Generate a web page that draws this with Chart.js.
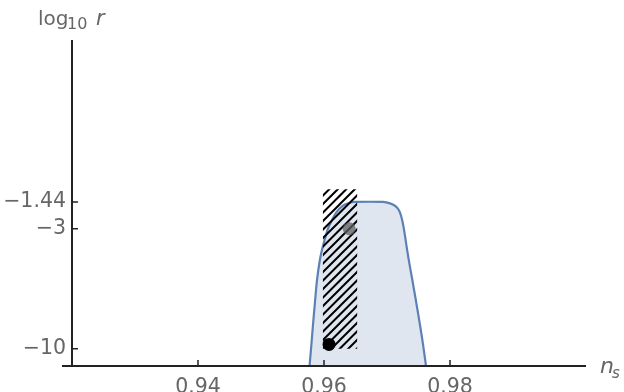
<!DOCTYPE html>
<html>
<head>
<meta charset="utf-8">
<script src="https://cdn.jsdelivr.net/npm/chart.js@4"></script>
<style>
  html, body { margin: 0; padding: 0; background: #fff; }
</style>
</head>
<body>
<canvas id="myChart" width="624" height="392"></canvas>
<script>
// allowed region boundary (n_s, log10 r)
const nsBoundary = [0.95770, 0.95794, 0.95825, 0.95857, 0.95889, 0.95929, 0.95960, 0.95992, 0.96024, 0.96056,
  0.96111, 0.96198, 0.96302, 0.96397, 0.96492,
  0.96937, 0.97048, 0.97127, 0.97183, 0.97222, 0.97254, 0.97286, 0.97317, 0.97357, 0.97405, 0.97460,
  0.97516, 0.97571, 0.97619];
const logrBoundary = [-11, -10.01, -8.61, -7.27, -5.99, -4.94, -4.36, -3.89, -3.48, -3.07,
  -2.61, -2.03, -1.65, -1.50, -1.44,
  -1.44, -1.52, -1.66, -1.88, -2.23, -2.72, -3.42, -4.18, -5.06, -6.05, -7.21,
  -8.44, -9.72, -11];

// hatched band
const hatchNs = [0.9598, 0.9653];
const hatchLogr = [-10, -0.7];

// model points
const grayPoint = [0.9640, -3.0];
const blackPoint = [0.9608, -9.74];

// ticks
const xTicks = [0.94, 0.96, 0.98];
const yTicks = [-10, -3, -1.44];
const yTickLabels = ['\u221210', '\u22123', '\u22121.44'];

const ctx = document.getElementById('myChart').getContext('2d');

// diagonal hatch, spacing 8.5px along each axis (tile holds two periods)
function hatchPattern() {
  const c = document.createElement('canvas');
  c.width = 17; c.height = 17;
  const g = c.getContext('2d');
  g.strokeStyle = '#000';
  g.lineWidth = 2;
  g.beginPath();
  for (let k = 0; k <= 4; k++) {
    const s = k * 8.5;
    g.moveTo(s + 3, -3); g.lineTo(s - 20, 20);
  }
  g.stroke();
  return ctx.createPattern(c, 'repeat');
}

const axesPlugin = {
  id: 'axesPlugin',
  afterDraw(chart) {
    const c = chart.ctx;
    const xs = chart.scales.x, ys = chart.scales.y;
    const a = chart.chartArea;
    c.save();
    c.strokeStyle = '#222';
    c.lineWidth = 2;
    c.beginPath();
    c.moveTo(a.left - 10, a.bottom); c.lineTo(a.right + 10, a.bottom);
    c.moveTo(a.left, a.top); c.lineTo(a.left, a.bottom);
    c.stroke();
    c.lineWidth = 1.5;
    c.beginPath();
    xTicks.forEach(v => {
      const px = xs.getPixelForValue(v);
      c.moveTo(px, a.bottom); c.lineTo(px, a.bottom - 6);
    });
    yTicks.forEach(v => {
      const py = ys.getPixelForValue(v);
      c.moveTo(a.left, py); c.lineTo(a.left + 6, py);
    });
    c.stroke();

    // axis labels
    c.fillStyle = '#666';
    c.textBaseline = 'alphabetic';
    c.textAlign = 'left';
    c.font = '20px "DejaVu Sans"';
    c.fillText('log', 38, 25);
    c.font = '16px "DejaVu Sans"';
    c.fillText('10', 67, 29);
    c.font = 'italic 21px "DejaVu Sans"';
    c.fillText('r', 96, 25);

    c.font = 'italic 22px "DejaVu Sans"';
    c.fillText('n', 600, 373);
    c.font = 'italic 15px "DejaVu Sans"';
    c.fillText('s', 612, 378);
    c.restore();
  }
};

const data = {
  datasets: [
    {
      label: 'black',
      type: 'scatter',
      data: [{ x: blackPoint[0], y: blackPoint[1] }],
      backgroundColor: '#000',
      borderWidth: 0,
      pointRadius: 6.5,
      order: 0
    },
    {
      label: 'gray',
      type: 'scatter',
      data: [{ x: grayPoint[0], y: grayPoint[1] }],
      backgroundColor: 'rgba(95,95,95,0.75)',
      borderWidth: 0,
      pointRadius: 6.5,
      order: 1
    },
    {
      label: 'hatch',
      type: 'line',
      data: hatchNs.map(v => ({ x: v, y: hatchLogr[1] })),
      borderWidth: 0,
      pointRadius: 0,
      backgroundColor: hatchPattern(),
      fill: { value: hatchLogr[0] },
      order: 2
    },
    {
      label: 'region',
      type: 'line',
      data: nsBoundary.map((v, i) => ({ x: v, y: logrBoundary[i] })),
      borderColor: 'rgb(94,129,181)',
      borderWidth: 2.2,
      backgroundColor: 'rgba(94,129,181,0.2)',
      pointRadius: 0,
      tension: 0.35,
      fill: 'start',
      order: 3
    }
  ]
};

const config = {
  type: 'line',
  data: data,
  options: {
    responsive: false,
    animation: false,
    layout: { padding: { top: 40, right: 48, left: 0, bottom: 0 } },
    scales: {
      x: {
        type: 'linear',
        min: 0.92,
        max: 1.0,
        grid: { display: false, drawTicks: false },
        border: { display: false },
        afterBuildTicks: s => { s.ticks = xTicks.map(v => ({ value: v })); },
        afterFit: s => { s.height = 26; },
        ticks: {
          color: '#666',
          padding: 9,
          maxRotation: 0,
          font: { family: "'DejaVu Sans'", size: 20.5 },
          callback: v => v.toFixed(2)
        }
      },
      y: {
        type: 'linear',
        min: -11,
        max: 8,
        grid: { display: false, drawTicks: false },
        border: { display: false },
        afterBuildTicks: s => { s.ticks = yTicks.map(v => ({ value: v })); },
        afterFit: s => { s.width = 72; },
        ticks: {
          color: '#666',
          padding: 6,
          font: { family: "'DejaVu Sans'", size: 20.5 },
          callback: v => yTickLabels[yTicks.indexOf(v)]
        }
      }
    },
    plugins: {
      legend: { display: false },
      tooltip: { enabled: false }
    }
  },
  plugins: [axesPlugin]
};

const myChart = new Chart(ctx, config);
</script>
</body>
</html>
